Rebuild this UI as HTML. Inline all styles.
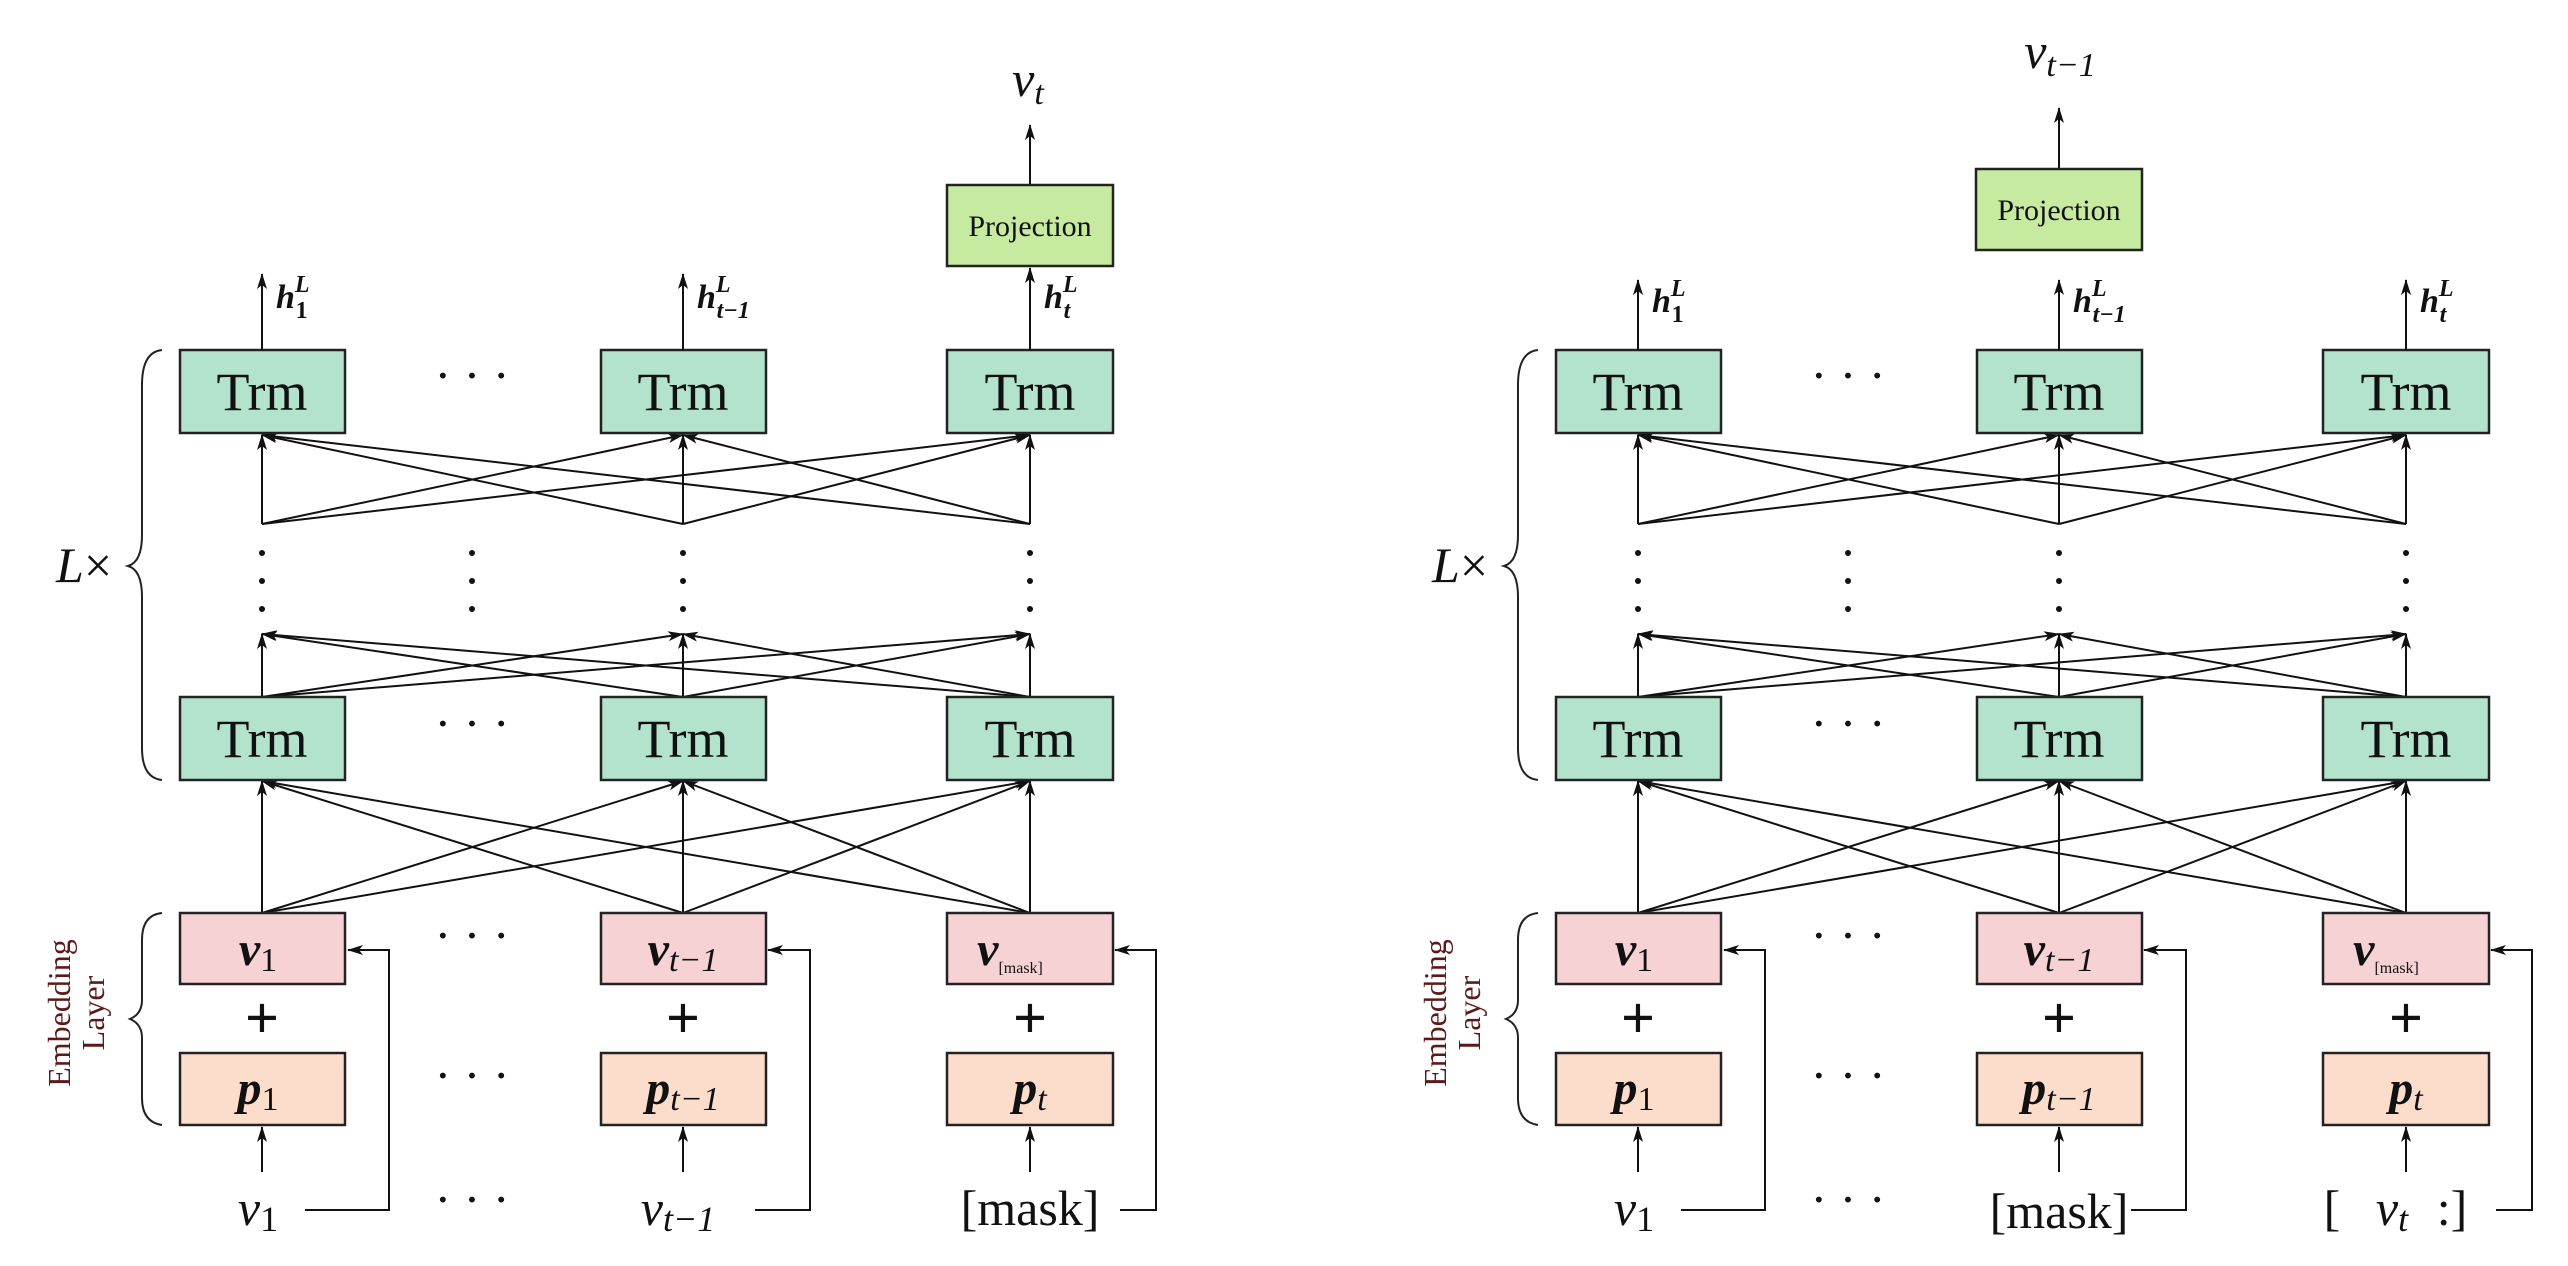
<!DOCTYPE html>
<html><head><meta charset="utf-8"><style>
html,body{margin:0;padding:0;background:#fff;}
svg{display:block;}
text{font-family:"Liberation Serif","DejaVu Serif",serif;fill:#111;font-weight:normal;}
.m{font-style:italic;}
.b{font-weight:bold;}
</style></head><body>
<svg width="2568" height="1266" viewBox="0 0 2568 1266" xmlns="http://www.w3.org/2000/svg">
<defs>
<marker id="b" markerWidth="16" markerHeight="14" refX="15" refY="7" orient="auto" markerUnits="userSpaceOnUse">
<path d="M0,2 L16,7 L0,12 L4,7 Z" fill="#111"/>
</marker>
<g id="net" stroke="#111" stroke-width="2" fill="none">
<g marker-end="url(#b)">
<line x1="262" y1="524" x2="262" y2="435"/><line x1="262" y1="524" x2="683" y2="435"/><line x1="262" y1="524" x2="1030" y2="435"/>
<line x1="683" y1="524" x2="262" y2="435"/><line x1="683" y1="524" x2="683" y2="435"/><line x1="683" y1="524" x2="1030" y2="435"/>
<line x1="1030" y1="524" x2="262" y2="435"/><line x1="1030" y1="524" x2="683" y2="435"/><line x1="1030" y1="524" x2="1030" y2="435"/>
<line x1="262" y1="697" x2="262" y2="634"/><line x1="262" y1="697" x2="683" y2="634"/><line x1="262" y1="697" x2="1030" y2="634"/>
<line x1="683" y1="697" x2="262" y2="634"/><line x1="683" y1="697" x2="683" y2="634"/><line x1="683" y1="697" x2="1030" y2="634"/>
<line x1="1030" y1="697" x2="262" y2="634"/><line x1="1030" y1="697" x2="683" y2="634"/><line x1="1030" y1="697" x2="1030" y2="634"/>
<line x1="262" y1="913" x2="262" y2="781"/><line x1="262" y1="913" x2="683" y2="781"/><line x1="262" y1="913" x2="1030" y2="781"/>
<line x1="683" y1="913" x2="262" y2="781"/><line x1="683" y1="913" x2="683" y2="781"/><line x1="683" y1="913" x2="1030" y2="781"/>
<line x1="1030" y1="913" x2="262" y2="781"/><line x1="1030" y1="913" x2="683" y2="781"/><line x1="1030" y1="913" x2="1030" y2="781"/>
<line x1="262" y1="1172" x2="262" y2="1127"/><line x1="683" y1="1172" x2="683" y2="1127"/><line x1="1030" y1="1172" x2="1030" y2="1127"/>
<polyline points="305,1210 389,1210 389,950 348,950"/>
<polyline points="755,1210 810,1210 810,950 768,950"/>
<polyline points="1120,1210 1156,1210 1156,950 1115,950"/>
</g>
<g fill="#111" stroke="none">
<circle cx="262" cy="553" r="3"/><circle cx="262" cy="581" r="3"/><circle cx="262" cy="609" r="3"/>
<circle cx="472" cy="553" r="3"/><circle cx="472" cy="581" r="3"/><circle cx="472" cy="609" r="3"/>
<circle cx="683" cy="553" r="3"/><circle cx="683" cy="581" r="3"/><circle cx="683" cy="609" r="3"/>
<circle cx="1030" cy="553" r="3"/><circle cx="1030" cy="581" r="3"/><circle cx="1030" cy="609" r="3"/>
</g>
<g stroke="#222" stroke-width="2.5">
<rect x="180" y="350" width="165" height="83" fill="#b3e3cc"/>
<rect x="601" y="350" width="165" height="83" fill="#b3e3cc"/>
<rect x="947" y="350" width="166" height="83" fill="#b3e3cc"/>
<rect x="180" y="697" width="165" height="83" fill="#b3e3cc"/>
<rect x="601" y="697" width="165" height="83" fill="#b3e3cc"/>
<rect x="947" y="697" width="166" height="83" fill="#b3e3cc"/>
<rect x="180" y="913" width="165" height="71" fill="#f6d2d4"/>
<rect x="601" y="913" width="165" height="71" fill="#f6d2d4"/>
<rect x="947" y="913" width="166" height="71" fill="#f6d2d4"/>
<rect x="180" y="1053" width="165" height="72" fill="#fcdccb"/>
<rect x="601" y="1053" width="165" height="72" fill="#fcdccb"/>
<rect x="947" y="1053" width="166" height="72" fill="#fcdccb"/>
</g>
<path d="M162,350 Q142,352 142,385 L142,535 Q142,562 128,566 Q142,570 142,597 L142,748 Q142,778 162,780" stroke="#222" stroke-width="2" fill="none"/>
<path d="M162,913 Q142,915 142,940 L142,1000 Q142,1014 130,1019 Q142,1024 142,1038 L142,1098 Q142,1122 162,1125" stroke="#222" stroke-width="2" fill="none"/>
</g>
<g id="txt">
<g font-size="54" text-anchor="middle">
<text x="262" y="410">Trm</text><text x="683" y="410">Trm</text><text x="1030" y="410">Trm</text>
<text x="262" y="757">Trm</text><text x="683" y="757">Trm</text><text x="1030" y="757">Trm</text>
</g>
<g font-size="50" text-anchor="middle">
<text x="472" y="392">· · ·</text><text x="472" y="740">· · ·</text>
<text x="472" y="952">· · ·</text><text x="472" y="1092">· · ·</text><text x="472" y="1216">· · ·</text>
</g>
</g>
</defs>

<use href="#net"/>
<use href="#net" transform="translate(1376,0)"/>

<g>
<g font-size="54" text-anchor="middle">
<text x="262" y="410">Trm</text><text x="683" y="410">Trm</text><text x="1030" y="410">Trm</text>
<text x="262" y="757">Trm</text><text x="683" y="757">Trm</text><text x="1030" y="757">Trm</text>
</g>
<g font-size="50" text-anchor="middle">
<text x="472" y="392">· · ·</text><text x="472" y="740">· · ·</text>
<text x="472" y="952">· · ·</text><text x="472" y="1092">· · ·</text><text x="472" y="1216">· · ·</text>
</g>
<g font-size="60" text-anchor="middle"><text class="b" x="262" y="1038">+</text><text class="b" x="683" y="1038">+</text><text class="b" x="1030" y="1038">+</text></g>
<g font-size="48" text-anchor="middle">
<text x="258" y="965"><tspan class="m b">v</tspan><tspan font-size="34" dy="6">1</tspan></text>
<text x="683" y="965"><tspan class="m b">v</tspan><tspan font-size="34" class="m" dy="6">t−1</tspan></text>
<text x="1030" y="965"><tspan class="m b" dx="-20">v</tspan><tspan font-size="16" dy="8">[mask]</tspan></text>
<text x="258" y="1104"><tspan class="m b">p</tspan><tspan font-size="34" dy="6">1</tspan></text>
<text x="683" y="1104"><tspan class="m b">p</tspan><tspan font-size="34" class="m" dy="6">t−1</tspan></text>
<text x="1030" y="1104"><tspan class="m b">p</tspan><tspan font-size="34" class="m" dy="6">t</tspan></text>
</g>
<text x="70" y="1013" font-size="32" text-anchor="middle" transform="rotate(-90 70 1013)" style="fill:#5a1a1a">Embedding</text>
<text x="104" y="1013" font-size="32" text-anchor="middle" transform="rotate(-90 104 1013)" style="fill:#5a1a1a">Layer</text>
<text x="56" y="582" font-size="50"><tspan class="m">L</tspan>×</text>
</g>
<g transform="translate(1376,0)">
<g font-size="54" text-anchor="middle">
<text x="262" y="410">Trm</text><text x="683" y="410">Trm</text><text x="1030" y="410">Trm</text>
<text x="262" y="757">Trm</text><text x="683" y="757">Trm</text><text x="1030" y="757">Trm</text>
</g>
<g font-size="50" text-anchor="middle">
<text x="472" y="392">· · ·</text><text x="472" y="740">· · ·</text>
<text x="472" y="952">· · ·</text><text x="472" y="1092">· · ·</text><text x="472" y="1216">· · ·</text>
</g>
<g font-size="60" text-anchor="middle"><text class="b" x="262" y="1038">+</text><text class="b" x="683" y="1038">+</text><text class="b" x="1030" y="1038">+</text></g>
<g font-size="48" text-anchor="middle">
<text x="258" y="965"><tspan class="m b">v</tspan><tspan font-size="34" dy="6">1</tspan></text>
<text x="683" y="965"><tspan class="m b">v</tspan><tspan font-size="34" class="m" dy="6">t−1</tspan></text>
<text x="1030" y="965"><tspan class="m b" dx="-20">v</tspan><tspan font-size="16" dy="8">[mask]</tspan></text>
<text x="258" y="1104"><tspan class="m b">p</tspan><tspan font-size="34" dy="6">1</tspan></text>
<text x="683" y="1104"><tspan class="m b">p</tspan><tspan font-size="34" class="m" dy="6">t−1</tspan></text>
<text x="1030" y="1104"><tspan class="m b">p</tspan><tspan font-size="34" class="m" dy="6">t</tspan></text>
</g>
<text x="70" y="1013" font-size="32" text-anchor="middle" transform="rotate(-90 70 1013)" style="fill:#5a1a1a">Embedding</text>
<text x="104" y="1013" font-size="32" text-anchor="middle" transform="rotate(-90 104 1013)" style="fill:#5a1a1a">Layer</text>
<text x="56" y="582" font-size="50"><tspan class="m">L</tspan>×</text>
</g>

<g stroke="#111" stroke-width="2" fill="none" marker-end="url(#b)">
<line x1="262" y1="350" x2="262" y2="274"/>
<line x1="683" y1="350" x2="683" y2="274"/>
<line x1="1030" y1="350" x2="1030" y2="268"/>
<line x1="1030" y1="185" x2="1030" y2="125"/>
</g>
<rect x="947" y="185" width="166" height="81" fill="#c5eaa0" stroke="#222" stroke-width="2.5"/>
<text x="1030" y="236" font-size="30" text-anchor="middle">Projection</text>
<text x="1028" y="96" font-size="50" text-anchor="middle"><tspan class="m">v</tspan><tspan class="m" font-size="34" dy="8">t</tspan></text>
<g font-size="34">
<text x="276" y="308"><tspan class="m b">h</tspan><tspan class="m b" font-size="24" dy="-16">L</tspan><tspan class="b" font-size="24" dx="-14" dy="26">1</tspan></text>
<text x="697" y="308"><tspan class="m b">h</tspan><tspan class="m b" font-size="24" dy="-16">L</tspan><tspan class="m b" font-size="24" dx="-14" dy="26">t−1</tspan></text>
<text x="1044" y="308"><tspan class="m b">h</tspan><tspan class="m b" font-size="24" dy="-16">L</tspan><tspan class="m b" font-size="24" dx="-14" dy="26">t</tspan></text>
</g>
<g font-size="50" text-anchor="middle">
<text x="258" y="1225"><tspan class="m">v</tspan><tspan font-size="36" dy="6">1</tspan></text>
<text x="678" y="1225"><tspan class="m">v</tspan><tspan class="m" font-size="36" dy="6">t−1</tspan></text>
<text x="1030" y="1225">[mask]</text>
</g>

<g stroke="#111" stroke-width="2" fill="none" marker-end="url(#b)">
<line x1="1638" y1="350" x2="1638" y2="280"/>
<line x1="2059" y1="350" x2="2059" y2="280"/>
<line x1="2406" y1="350" x2="2406" y2="280"/>
<line x1="2059" y1="169" x2="2059" y2="108"/>
</g>
<rect x="1976" y="169" width="166" height="81" fill="#c5eaa0" stroke="#222" stroke-width="2.5"/>
<text x="2059" y="220" font-size="30" text-anchor="middle">Projection</text>
<text x="2060" y="68" font-size="50" text-anchor="middle"><tspan class="m">v</tspan><tspan class="m" font-size="34" dy="8">t−1</tspan></text>
<g font-size="34">
<text x="1652" y="312"><tspan class="m b">h</tspan><tspan class="m b" font-size="24" dy="-16">L</tspan><tspan class="b" font-size="24" dx="-14" dy="26">1</tspan></text>
<text x="2073" y="312"><tspan class="m b">h</tspan><tspan class="m b" font-size="24" dy="-16">L</tspan><tspan class="m b" font-size="24" dx="-14" dy="26">t−1</tspan></text>
<text x="2420" y="312"><tspan class="m b">h</tspan><tspan class="m b" font-size="24" dy="-16">L</tspan><tspan class="m b" font-size="24" dx="-14" dy="26">t</tspan></text>
</g>
<g font-size="50" text-anchor="middle">
<text x="1634" y="1225"><tspan class="m">v</tspan><tspan font-size="36" dy="6">1</tspan></text>
<text x="2059" y="1228">[mask]</text>
<text x="2332" y="1225">[</text>
<text x="2392" y="1225"><tspan class="m">v</tspan><tspan class="m" font-size="36" dy="6">t</tspan></text>
<text x="2452" y="1225">:]</text>
</g>
</svg>
</body></html>
